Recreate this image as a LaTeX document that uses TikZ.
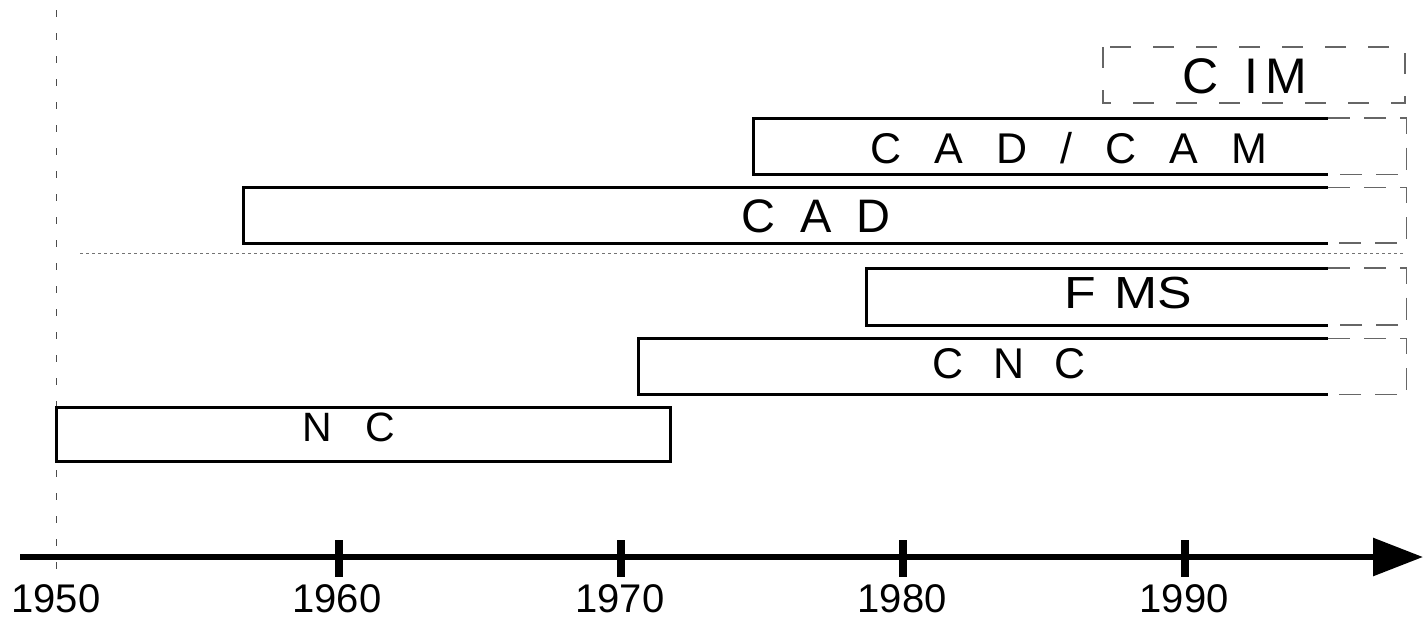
\documentclass[tikz,border=0pt]{standalone}
\usepackage{fontspec}
\usepackage{graphicx}
\setmainfont{Liberation Sans}
\usetikzlibrary{arrows.meta}
\newcommand\lsp[1]{\hspace{#1pt}}
\newcommand\fsz[1]{\fontsize{#1}{#1}\selectfont}

\begin{document}
\begin{tikzpicture}[x=1pt,y=-1pt,
  bar/.style={draw=black, line width=3pt, line join=miter},
  future/.style={draw=black!60, line width=1.2pt, dash pattern=on 22pt off 14pt},
  planbox/.style={draw=black!60, line width=1.2pt, dash pattern=on 21pt off 22pt},
  guide/.style={draw=black!70, line width=0.9pt, dash pattern=on 7pt off 16pt},
  divider/.style={draw=black!55, line width=0.9pt, dash pattern=on 3pt off 3pt},
  tickmark/.style={draw=black, line width=8pt},
  yearlabel/.style={anchor=base, font=\fsz{40}, inner sep=0pt},
  tag/.style={anchor=base, inner sep=0pt}
]
\useasboundingbox (0,0) rectangle (1423,619);

% guide lines
\draw[guide] (56,10) -- (56,582);
\draw[divider] (80,253) -- (1405,253);

% NC (closed period)
\draw[bar] (56,407) rectangle (670,461);
\node[tag, font=\fsz{41}] (nc) at (349,441) {N\lsp{33}C};

% CNC
\draw[bar] (1328,338.7) -- (638.7,338.7) -- (638.7,394.7) -- (1328,394.7);
\draw[future] (1328,338.7) -- (1406.5,338.7) -- (1406.5,394.7) -- (1328,394.7);
\node[tag, font=\fsz{43}] (cnc) at (1009,378) {C\lsp{30}N\lsp{30}C};

% FMS
\draw[bar] (1328,268) -- (866,268) -- (866,325) -- (1328,325);
\draw[future] (1328,268) -- (1406.5,268) -- (1406.5,325) -- (1328,325);
\node[tag, font=\fsz{45}] (fms) at (1128,308) {\scalebox{1.15}[1]{F\lsp{16}MS}};

% CAD
\draw[bar] (1328,187.5) -- (243,187.5) -- (243,243) -- (1328,243);
\draw[future] (1328,187.5) -- (1406.5,187.5) -- (1406.5,243) -- (1328,243);
\node[tag, font=\fsz{47}] (cad) at (816,232) {C\lsp{25}A\lsp{25}D};

% CAD/CAM
\draw[bar] (1328,118) -- (753,118) -- (753,174.5) -- (1328,174.5);
\draw[future] (1328,118) -- (1406.5,118) -- (1406.5,174.5) -- (1328,174.5);
\node[tag, font=\fsz{43}] (cadcam) at (1069,163)
  {C\lsp{33}A\lsp{33}D\lsp{33}/\lsp{33}C\lsp{33}A\lsp{33}M};

% CIM (planned)
\draw[planbox] (1103,47) rectangle (1405,103);
\node[tag, font=\fsz{50}] (cim) at (1245,93) {C\lsp{26}I\lsp{7}M};

% time axis
\coordinate (axL) at (20,557);
\coordinate (axR) at (1423,557);
\draw[line width=6pt, -{Triangle[length=50pt,width=37pt]}] (axL) -- (axR);
\foreach \yr/\xx in {1960/339,1970/621,1980/903,1990/1185}{
  \draw[tickmark] (\xx,540) -- (\xx,577);
}
\foreach \yr/\xx in {1950/56,1960/337,1970/620,1980/902,1990/1184}{
  \node[yearlabel] (y\yr) at (\xx,612) {\yr};
}
\end{tikzpicture}
\end{document}
